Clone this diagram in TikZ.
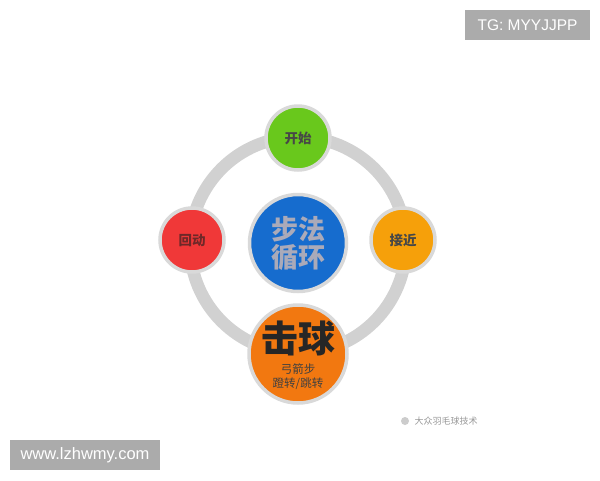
\documentclass[tikz,border=0pt]{standalone}
\usepackage{fontspec}
\setmainfont{Liberation Sans}
\newfontfamily\cjk{Noto Sans CJK SC}
\begin{document}
\begin{tikzpicture}[x=1pt,y=-1pt,
  ball/.style={circle,draw=black!15,line width=3.5pt,inner sep=0pt},
  lbl/.style={font=\cjk\bfseries\fontsize{13.5}{15}\selectfont,text=black!72},
  tag/.style={fill=black!33,text=white,inner sep=0pt,minimum height=30pt}]
\useasboundingbox (0,0) rectangle (600,480);
\fill[white] (0,0) rectangle (600,480);
\node[circle,draw=black!18,line width=12.5pt,minimum size=216pt] (ring) at (298,245) {};
\node[ball,fill={rgb,255:red,105;green,200;blue,28},minimum size=64pt] (start) at (298,138) {};
\node[lbl] at (start) {开始};
\node[ball,fill={rgb,255:red,240;green,56;blue,56},minimum size=64pt] (back) at (192,240) {};
\node[lbl,text={rgb,255:red,110;green,40;blue,40}] at (back) {回动};
\node[ball,fill={rgb,255:red,246;green,160;blue,10},minimum size=64pt] (near) at (403,240) {};
\node[lbl] at (near) {接近};
\node[ball,fill={rgb,255:red,22;green,108;blue,206},minimum size=97pt] (center) at (298,243) {};
\node[font=\cjk\bfseries\fontsize{27}{30}\selectfont,text={rgb,255:red,170;green,170;blue,185},align=center] at (center) {步法\\[-2pt]循环};
\node[ball,fill={rgb,255:red,242;green,120;blue,16},minimum size=98pt] (hit) at (298,354) {};
\node[font=\cjk\bfseries\fontsize{37}{38}\selectfont,text=black!85] (hitt) at (298,338) {击球};
\node[font=\cjk\fontsize{11.5}{14}\selectfont,text=black!75,align=center] (sub) at (298,377) {弓箭步\\蹬转/跳转};
\node[tag,minimum width=125pt,font=\fontsize{15.5}{18}\selectfont] (tg) at (527.5,25) {TG: MYYJJPP};
\node[tag,minimum width=150pt,font=\fontsize{16.5}{18}\selectfont] (www) at (85,455) {www.lzhwmy.com};
\node[circle,fill=black!20,minimum size=8pt,inner sep=0pt] (ic) at (405,421) {};
\node[font=\cjk\fontsize{9}{11}\selectfont,text=black!40,anchor=west] (wm) at (411,421) {大众羽毛球技术};
\end{tikzpicture}
\end{document}
